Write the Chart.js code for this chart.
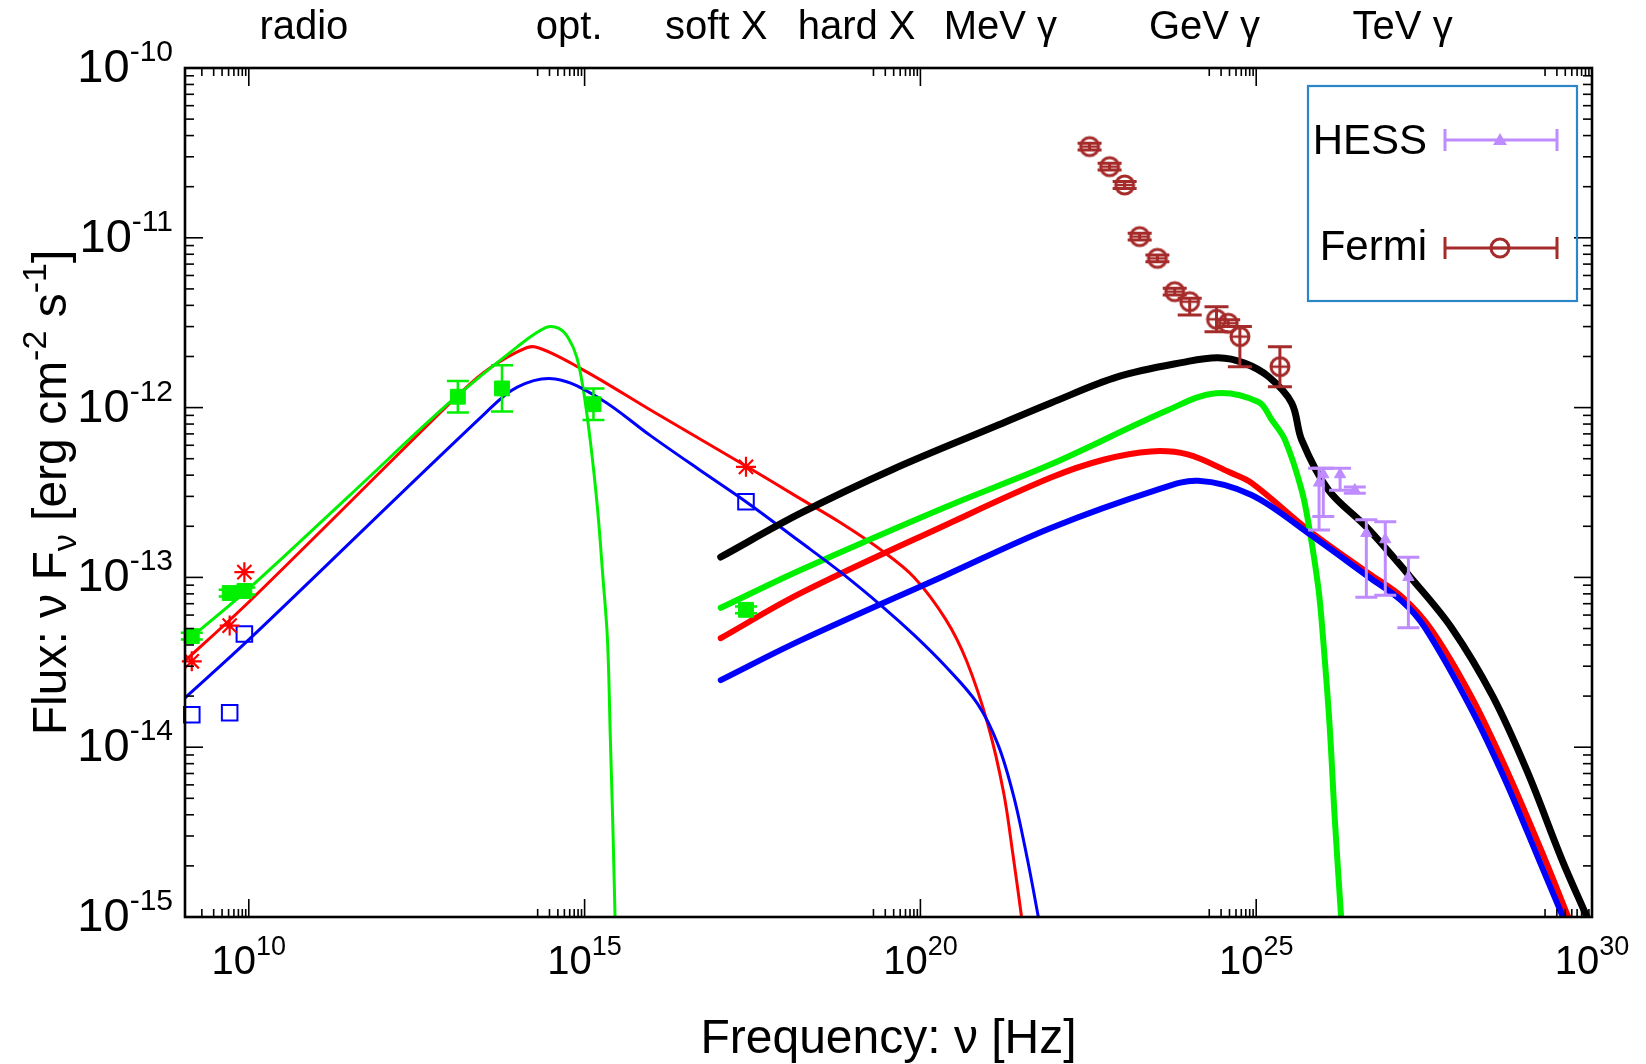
<!DOCTYPE html>
<html><head><meta charset="utf-8">
<script src="https://cdn.jsdelivr.net/npm/chart.js@4/dist/chart.umd.min.js"></script>
<style>html,body{margin:0;padding:0;background:#fff}canvas{display:block}</style>
</head><body>
<canvas id="c" width="1646" height="1064"></canvas>
<script>
// ---------- axis ranges and ticks (log10 values) ----------
const xMinExp = 9.05, xMaxExp = 30, yMinExp = -15, yMaxExp = -10;
const xMajorTickExps = [10, 15, 20, 25, 30];
const xMinorTickDecades = [9, 14, 19, 24, 29];
const yMajorTickExps = [-15, -14, -13, -12, -11, -10];
const minorMultipliers = [2, 3, 4, 5, 6, 7, 8, 9];
const bandLabels = ['radio', 'opt.', 'soft X', 'hard X', 'MeV γ', 'GeV γ', 'TeV γ'];
const bandLabelLogNu = [10.82, 14.77, 16.96, 19.05, 21.19, 24.23, 27.18];

// ---------- model curves: log10(nu [Hz]) , log10(nu F_nu [erg cm^-2 s^-1]) ----------
const syncRedLogNu  = [9.015,10.016,12.998,13.490,13.997,14.267,14.982,15.981,17.403,18.185,18.812,19.438,19.908,20.377,20.690,21.004,21.239,21.380,21.505];
const syncRedLogF   = [-13.504,-13.139,-11.973,-11.796,-11.672,-11.643,-11.779,-12.014,-12.344,-12.530,-12.678,-12.845,-13.000,-13.247,-13.494,-13.865,-14.267,-14.638,-14.996];
const syncGreenLogNu = [9.001,10.013,11.506,12.998,13.997,14.428,14.616,14.757,14.882,14.982,15.085,15.190,15.273,15.341,15.384,15.422,15.453];
const syncGreenLogF  = [-13.398,-13.061,-12.515,-11.967,-11.642,-11.528,-11.534,-11.590,-11.701,-11.896,-12.196,-12.585,-13.000,-13.369,-13.958,-14.484,-14.997];
const syncBlueLogNu = [9.015,10.016,13.490,13.997,14.564,15.236,15.981,16.698,17.403,18.185,18.812,19.438,19.908,20.377,20.847,21.160,21.395,21.598,21.755];
const syncBlueLogF  = [-13.722,-13.361,-12.044,-11.879,-11.831,-11.949,-12.165,-12.363,-12.554,-12.783,-12.969,-13.173,-13.340,-13.525,-13.742,-13.989,-14.298,-14.669,-14.997];

const icBlackLogNu = [17.027,18.217,19.592,21.158,21.943,22.945,23.932,24.433,24.824,25.184,25.529,25.677,26.077,26.640,27.313,27.908,28.519,29.036,29.552,29.928];
const icBlackLogF  = [-12.880,-12.622,-12.363,-12.103,-11.973,-11.818,-11.732,-11.707,-11.738,-11.818,-11.973,-12.190,-12.486,-12.703,-13.006,-13.296,-13.698,-14.143,-14.662,-15.002];
const icGreenLogNu = [17.027,18.217,20.377,21.943,23.689,24.395,25.035,25.231,25.428,25.677,25.795,25.929,25.998,26.092,26.170,26.264];
const icGreenLogF  = [-13.179,-12.956,-12.585,-12.334,-12.014,-11.915,-11.967,-12.072,-12.190,-12.486,-12.721,-13.074,-13.370,-13.865,-14.421,-14.997];
const icRedLogNu   = [17.027,18.217,20.377,21.943,22.726,23.430,23.978,24.604,24.930,25.777,26.670,27.168,27.611,28.206,28.754,29.302,29.662];
const icRedLogF    = [-13.358,-13.093,-12.691,-12.412,-12.307,-12.258,-12.276,-12.381,-12.443,-12.721,-12.975,-13.114,-13.309,-13.704,-14.156,-14.662,-15.015];
const icBlueLogNu  = [17.027,18.217,20.377,21.943,23.509,24.135,24.930,25.777,26.670,27.168,27.512,28.206,28.707,29.209,29.584];
const icBlueLogF   = [-13.605,-13.371,-12.987,-12.709,-12.486,-12.431,-12.515,-12.740,-12.996,-13.139,-13.296,-13.778,-14.193,-14.662,-15.015];

// ---------- observations ----------
const greenObsLogNu = [9.151, 9.715, 9.934, 13.113, 13.770, 15.132, 17.403];
const greenObsLogF  = [-13.346, -13.092, -13.080, -11.936, -11.887, -11.980, -13.191];
const greenObsLogLo = [-13.366, -13.112, -13.100, -12.029, -12.023, -12.073, -13.211];
const greenObsLogHi = [-13.326, -13.072, -13.060, -11.843, -11.751, -11.887, -13.171];
const redObsLogNu   = [9.151, 9.715, 9.934, 17.403];
const redObsLogF    = [-13.494, -13.284, -12.969, -12.349];
const blueObsLogNu  = [9.151, 9.715, 9.934, 17.403];
const blueObsLogF   = [-13.809, -13.797, -13.333, -12.554];

const fermiLogNu = [22.519, 22.817, 23.041, 23.265, 23.529, 23.787, 24.010, 24.409, 24.583, 24.757, 25.353];
const fermiLogF  = [-10.463, -10.581, -10.689, -10.993, -11.121, -11.317, -11.376, -11.480, -11.503, -11.582, -11.759];
const fermiLogLo = [-10.483, -10.601, -10.709, -11.013, -11.141, -11.337, -11.455, -11.553, -11.523, -11.759, -11.877];
const fermiLogHi = [-10.443, -10.561, -10.669, -10.973, -11.101, -11.297, -11.356, -11.406, -11.483, -11.523, -11.641];

const hessLogNu = [25.936, 25.999, 26.249, 26.468, 26.640, 26.922, 27.266];
const hessLogF  = [-12.443, -12.394, -12.394, -12.486, -12.740, -12.777, -12.999];
const hessLogLo = [-12.721, -12.641, -12.487, -12.505, -13.117, -13.105, -13.296];
const hessLogHi = [-12.357, -12.357, -12.357, -12.468, -12.660, -12.672, -12.882];

// ---------- styling ----------
const FONT = "'Liberation Sans', Arial, Helvetica, sans-serif";
const C_RED = '#ff0000', C_GREEN = '#00f000', C_BLUE = '#0000ff', C_BLACK = '#000000';
const C_FERMI = '#a52a2a', C_HESS = '#bf8cff', C_LEGEND = '#2a86c8';

const P = v => Math.pow(10, v);
const pts = (lx, ly) => lx.map((x, i) => ({ x: P(x), y: P(ly[i]) }));

function fermiMarker() {
  const c = document.createElement('canvas'); c.width = 26; c.height = 26;
  const g = c.getContext('2d');
  g.strokeStyle = C_FERMI; g.lineWidth = 3;
  g.beginPath(); g.arc(13, 13, 9, 0, 2 * Math.PI); g.stroke();
  g.lineWidth = 2.5; g.beginPath(); g.moveTo(5, 13); g.lineTo(21, 13); g.stroke();
  return c;
}
const fermiImg = fermiMarker();

function curve(lx, ly, color, width, order) {
  return { type: 'scatter', data: pts(lx, ly), showLine: true, borderColor: color, backgroundColor: color,
    borderWidth: width, pointRadius: 0, tension: 0.35, order: order, clip: 0,
    borderCapStyle: 'round', borderJoinStyle: 'round' };
}
function points(lx, ly, style, radius, fill, stroke, bw, extra) {
  return Object.assign({ type: 'scatter', data: pts(lx, ly), showLine: false, pointStyle: style,
    pointRadius: radius, pointBackgroundColor: fill, pointBorderColor: stroke, pointBorderWidth: bw,
    order: 0, clip: false }, extra || {});
}

const datasets = [
  points(greenObsLogNu, greenObsLogF, 'rect', 10.5, C_GREEN, C_GREEN, 1, { errLo: greenObsLogLo, errHi: greenObsLogHi, errColor: C_GREEN, cap: 11, errW: 2.5 }),
  points(redObsLogNu, redObsLogF, 'star', 10, C_RED, C_RED, 2.2),
  points(blueObsLogNu, blueObsLogF, 'rect', 11, 'rgba(0,0,0,0)', C_BLUE, 2),
  points(fermiLogNu, fermiLogF, fermiImg, 10, C_FERMI, C_FERMI, 1, { errLo: fermiLogLo, errHi: fermiLogHi, errColor: C_FERMI, cap: 12, errW: 3 }),
  points(hessLogNu, hessLogF, 'triangle', 6.5, C_HESS, C_HESS, 1, { errLo: hessLogLo, errHi: hessLogHi, errColor: C_HESS, cap: 11, errW: 3 }),
  curve(syncRedLogNu, syncRedLogF, C_RED, 3, 6),
  curve(syncGreenLogNu, syncGreenLogF, C_GREEN, 3, 5),
  curve(syncBlueLogNu, syncBlueLogF, C_BLUE, 3, 4),
  curve(icRedLogNu, icRedLogF, C_RED, 6, 6),
  curve(icGreenLogNu, icGreenLogF, C_GREEN, 6, 5),
  curve(icBlueLogNu, icBlueLogF, C_BLUE, 6, 4),
  curve(icBlackLogNu, icBlackLogF, C_BLACK, 7, 3)
];

function partsWidth(ctx, parts) {
  let w = 0; parts.forEach(p => { ctx.font = p.size + 'px ' + FONT; w += ctx.measureText(p.t).width; }); return w;
}
function drawParts(ctx, parts, x, y) {
  let cx = x;
  parts.forEach(p => { ctx.font = p.size + 'px ' + FONT; ctx.fillText(p.t, cx, y + (p.dy || 0)); cx += ctx.measureText(p.t).width; });
}

const errorBars = {
  id: 'errorBars',
  afterDatasetsDraw(chart) {
    const { ctx } = chart; const ys = chart.scales.y;
    ctx.save();
    chart.data.datasets.forEach((ds, i) => {
      if (!ds.errLo) return;
      const meta = chart.getDatasetMeta(i);
      meta.data.forEach((el, j) => {
        const y0 = ys.getPixelForValue(P(ds.errLo[j])), y1 = ys.getPixelForValue(P(ds.errHi[j]));
        ctx.strokeStyle = ds.errColor; ctx.lineWidth = ds.errW;
        ctx.beginPath();
        ctx.moveTo(el.x, y0); ctx.lineTo(el.x, y1);
        ctx.moveTo(el.x - ds.cap, y0); ctx.lineTo(el.x + ds.cap, y0);
        ctx.moveTo(el.x - ds.cap, y1); ctx.lineTo(el.x + ds.cap, y1);
        ctx.stroke();
      });
    });
    ctx.restore();
  }
};

const frame = {
  id: 'frame',
  afterDatasetsDraw(chart) {
    const { ctx, chartArea: a } = chart; const xs = chart.scales.x, ys = chart.scales.y;
    ctx.save();
    ctx.strokeStyle = '#000'; ctx.lineWidth = 1.6;
    const seg = (x0, y0, x1, y1) => { ctx.beginPath(); ctx.moveTo(x0, y0); ctx.lineTo(x1, y1); ctx.stroke(); };
    xMajorTickExps.forEach(e => { const px = xs.getPixelForValue(P(e)); seg(px, a.bottom, px, a.bottom - 18); seg(px, a.top, px, a.top + 18); });
    xMinorTickDecades.forEach(d => minorMultipliers.forEach(m => {
      const v = m * P(d); if (v < xs.min || v > xs.max) return;
      const px = xs.getPixelForValue(v); seg(px, a.bottom, px, a.bottom - 8); seg(px, a.top, px, a.top + 8);
    }));
    yMajorTickExps.forEach(e => { const py = ys.getPixelForValue(P(e)); seg(a.left, py, a.left + 18, py); seg(a.right, py, a.right - 18, py); });
    yMajorTickExps.slice(0, -1).forEach(d => minorMultipliers.forEach(m => {
      const py = ys.getPixelForValue(m * P(d)); seg(a.left, py, a.left + 9, py); seg(a.right, py, a.right - 9, py);
    }));
    ctx.lineWidth = 2.6;
    ctx.strokeRect(a.left, a.top, a.right - a.left, a.bottom - a.top);
    ctx.restore();
  },
  afterDraw(chart) {
    const { ctx, chartArea: a } = chart; const xs = chart.scales.x, ys = chart.scales.y;
    ctx.save();
    ctx.fillStyle = '#000'; ctx.textAlign = 'left'; ctx.textBaseline = 'alphabetic';
    // x tick labels
    xMajorTickExps.forEach(e => {
      const parts = [{ t: '10', size: 40 }, { t: String(e), size: 27, dy: -19 }];
      const w = partsWidth(ctx, parts);
      drawParts(ctx, parts, xs.getPixelForValue(P(e)) - w / 2, 974);
    });
    // y tick labels
    yMajorTickExps.forEach(e => {
      const parts = [{ t: '10', size: 47 }, { t: String(e), size: 30, dy: -21 }];
      const w = partsWidth(ctx, parts);
      drawParts(ctx, parts, 173 - w, ys.getPixelForValue(P(e)) + 14);
    });
    // band labels on top
    ctx.font = '40px ' + FONT; ctx.textAlign = 'center';
    bandLabels.forEach((t, i) => ctx.fillText(t, xs.getPixelForValue(P(bandLabelLogNu[i])), 39));
    // x title
    ctx.font = '48px ' + FONT;
    ctx.fillText('Frequency: ν [Hz]', (a.left + a.right) / 2, 1053);
    // y title (rotated)
    ctx.textAlign = 'left';
    const yt = [{ t: 'Flux: ν F', size: 48 }, { t: 'ν', size: 34, dy: 10 }, { t: ' [erg cm', size: 48 },
      { t: '-2', size: 34, dy: -20 }, { t: ' s', size: 48 }, { t: '-1', size: 34, dy: -20 }, { t: ']', size: 48 }];
    const tw = partsWidth(ctx, yt);
    ctx.save(); ctx.translate(49, (a.top + a.bottom) / 2); ctx.rotate(-Math.PI / 2);
    drawParts(ctx, yt, -tw / 2, 17);
    ctx.restore();
    // legend
    ctx.strokeStyle = C_LEGEND; ctx.lineWidth = 2.2;
    ctx.strokeRect(1308, 86, 269, 215);
    ctx.font = '42px ' + FONT; ctx.textAlign = 'right'; ctx.textBaseline = 'middle'; ctx.fillStyle = '#000';
    ctx.fillText('HESS', 1427, 142);
    ctx.fillText('Fermi', 1427, 248);
    const legLine = (y, col) => {
      ctx.strokeStyle = col; ctx.lineWidth = 3;
      ctx.beginPath(); ctx.moveTo(1445, y); ctx.lineTo(1557, y);
      ctx.moveTo(1445, y - 11); ctx.lineTo(1445, y + 11); ctx.moveTo(1557, y - 11); ctx.lineTo(1557, y + 11); ctx.stroke();
    };
    legLine(140, C_HESS);
    ctx.fillStyle = C_HESS; ctx.beginPath(); ctx.moveTo(1500, 133); ctx.lineTo(1507, 145); ctx.lineTo(1493, 145); ctx.closePath(); ctx.fill();
    legLine(248, C_FERMI);
    ctx.drawImage(fermiImg, 1500 - 13, 248 - 13);
    ctx.restore();
  }
};

new Chart(document.getElementById('c'), {
  data: { datasets: datasets },
  options: {
    responsive: false, animation: false, events: [],
    layout: { padding: { left: 185, top: 68, right: 54, bottom: 147 } },
    plugins: { legend: { display: false }, tooltip: { enabled: false } },
    scales: {
      x: { type: 'logarithmic', min: P(xMinExp), max: P(xMaxExp), display: false },
      y: { type: 'logarithmic', min: P(yMinExp), max: P(yMaxExp), display: false }
    }
  },
  plugins: [errorBars, frame]
});
</script>
</body></html>
